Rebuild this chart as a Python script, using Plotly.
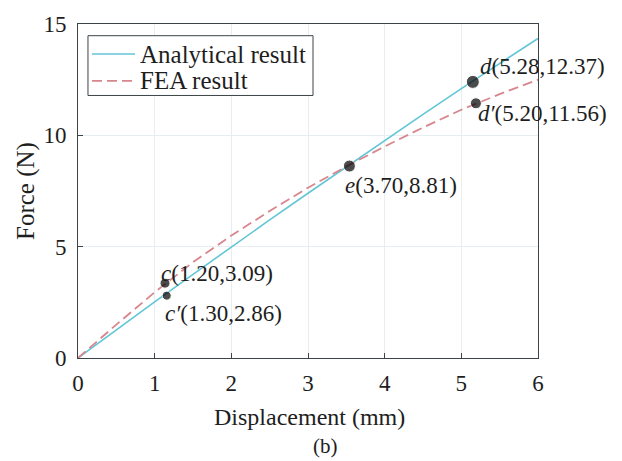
import plotly.graph_objects as go

# Data
disp = [0, 0.5, 1, 1.5, 2, 2.5, 3, 3.5, 4, 4.5, 5, 5.5, 6]
analytical = [0, 1.27, 2.52, 3.76, 4.99, 6.2, 7.4, 8.59, 9.77, 10.94, 12.1, 13.24, 14.35]
fea = [0, 1.5, 2.95, 4.3, 5.5, 6.6, 7.65, 8.6, 9.5, 10.35, 11.15, 11.85, 12.5]

pt_names = ["c", "c′", "e", "d", "d′"]
pt_x = [1.135, 1.157, 3.54, 5.15, 5.19]
pt_y = [3.36, 2.80, 8.62, 12.4, 11.44]
pt_size = [10, 9, 12, 13, 11]
pt_text = ["(1.20,3.09)", "(1.30,2.86)", "(3.70,8.81)", "(5.28,12.37)", "(5.20,11.56)"]
lbl_x = [1.06, 1.11, 3.46, 5.22, 5.19]
lbl_y = [3.78, 2.02, 7.74, 13.11, 11.0]

series_names = ["Analytical result", "FEA result"]
series_colors = ["#62c6d6", "#d8868d"]
series_dash = ["solid", "10px,5px"]
series_width = [1.6, 1.8]

FONT = "Liberation Serif"
TXT = "#1e1e1e"
AX = "#3c4448"

fig = go.Figure()
for name, ys, col, dsh, w in zip(series_names, [analytical, fea], series_colors, series_dash, series_width):
    fig.add_trace(go.Scatter(x=disp, y=ys, mode="lines", name=name, showlegend=False,
                             line=dict(color=col, width=w, dash=dsh)))
fig.add_trace(go.Scatter(x=pt_x, y=pt_y, mode="markers", showlegend=False,
                         marker=dict(color="black", size=pt_size), cliponaxis=False))

for n, t, x, y in zip(pt_names, pt_text, lbl_x, lbl_y):
    fig.add_annotation(x=x, y=y, xref="x", yref="y", text=f"<i>{n}</i>{t}",
                       showarrow=False, xanchor="left", yanchor="middle",
                       font=dict(family=FONT, size=23, color=TXT))

# legend drawn as a box with samples
fig.add_shape(type="rect", xref="paper", yref="paper", x0=0.0217, x1=0.5109, y0=0.786, y1=0.965,
              line=dict(color=AX, width=1), fillcolor="white", layer="above")
for name, col, dsh, w, ly in zip(series_names, series_colors, series_dash, series_width, [0.910, 0.830]):
    fig.add_shape(type="line", xref="paper", yref="paper", x0=0.0304, x1=0.1239, y0=ly, y1=ly,
                  line=dict(color=col, width=w, dash=dsh), layer="above")
    fig.add_annotation(x=0.1304, y=ly, xref="paper", yref="paper", text=name, showarrow=False,
                       xanchor="left", yanchor="middle", font=dict(family=FONT, size=25, color=TXT))

# axis titles and caption
fig.add_annotation(x=0.503, y=-0.176, xref="paper", yref="paper", text="Displacement (mm)",
                   showarrow=False, xanchor="center", yanchor="middle",
                   font=dict(family=FONT, size=24, color=TXT))
fig.add_annotation(x=-0.113, y=0.5, xref="paper", yref="paper", text="Force (N)",
                   showarrow=False, xanchor="center", yanchor="middle", textangle=-90,
                   font=dict(family=FONT, size=25, color=TXT))
fig.add_annotation(x=0.539, y=-0.262, xref="paper", yref="paper", text="(b)",
                   showarrow=False, xanchor="center", yanchor="middle",
                   font=dict(family=FONT, size=21, color=TXT))

axis_common = dict(showline=True, mirror=True, linecolor=AX, linewidth=1,
                   ticks="inside", ticklen=5, tickcolor=AX,
                   showgrid=True, gridcolor="#e6eef1", gridwidth=1, zeroline=False,
                   tickfont=dict(family=FONT, size=23, color=TXT))

fig.update_xaxes(range=[0, 6], dtick=1, ticklabelstandoff=4, **axis_common)
fig.update_yaxes(range=[0, 15], dtick=5, ticklabelstandoff=6, **axis_common)

fig.update_layout(
    width=622, height=461,
    margin=dict(l=78, r=84, t=17, b=103),
    paper_bgcolor="white", plot_bgcolor="white",
    showlegend=False,
)

fig.write_html("out.html")
